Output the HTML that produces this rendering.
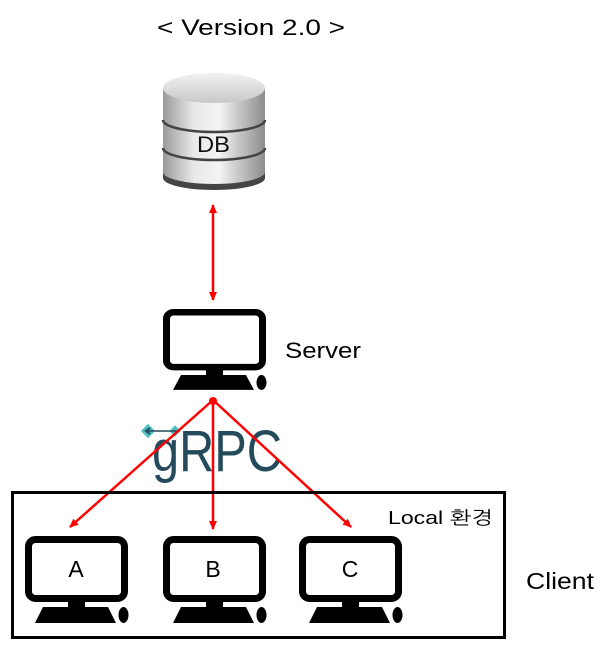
<!DOCTYPE html>
<html><head><meta charset="utf-8"><style>
html,body{margin:0;padding:0;background:#fff;}
svg{display:block;}
text{font-family:"Liberation Sans","NanumGothic",sans-serif;}
</style></head><body>
<svg width="608" height="652" viewBox="0 0 608 652" xmlns="http://www.w3.org/2000/svg">
<defs>
<linearGradient id="cyl" x1="0" x2="1" y1="0" y2="0">
<stop offset="0" stop-color="#9a9a9a"/><stop offset="0.3" stop-color="#e8e8e8"/><stop offset="0.55" stop-color="#f4f4f4"/><stop offset="1" stop-color="#8c8c8c"/>
</linearGradient>
<linearGradient id="top" x1="0" x2="0" y1="0" y2="1">
<stop offset="0" stop-color="#f2f2f2"/><stop offset="1" stop-color="#c8c8c8"/>
</linearGradient>
<g id="mon">
<rect x="3.5" y="3.5" width="96" height="59" rx="7" fill="#fff" stroke="#000" stroke-width="7"/>
<rect x="43" y="65" width="17" height="8" fill="#000"/>
<polygon points="18,71 83,71 91,87 10,87" fill="#000"/>
<ellipse cx="98.5" cy="79" rx="5" ry="8" fill="#000"/>
</g>
<marker id="ar" markerWidth="10" markerHeight="10" refX="8" refY="4" orient="auto-start-reverse" markerUnits="userSpaceOnUse">
<path d="M0,0 L9,4 L0,8 z" fill="#f00"/>
</marker>
</defs>
<text x="157" y="35" font-size="22" fill="#000" textLength="188" lengthAdjust="spacingAndGlyphs">&lt; Version 2.0 &gt;</text>

<!-- DB -->
<path d="M163,88 L163,175 A51,12 0 0 0 265,175 L265,88 Z" fill="url(#cyl)"/>
<path d="M163,172 A51,12 0 0 0 265,172 L265,178 A51,12 0 0 1 163,178 Z" fill="#444"/>
<ellipse cx="214" cy="88" rx="51" ry="15" fill="url(#top)"/>
<path d="M163,120 A51,12 0 0 0 265,120" fill="none" stroke="#444" stroke-width="2.5"/>
<path d="M163,148 A51,12 0 0 0 265,148" fill="none" stroke="#444" stroke-width="2.5"/>
<text x="197" y="152" font-size="22" fill="#111" textLength="33" lengthAdjust="spacingAndGlyphs">DB</text>

<line x1="213" y1="205" x2="213" y2="300" stroke="#f00" stroke-width="2.5" marker-start="url(#ar)" marker-end="url(#ar)"/>

<use href="#mon" transform="translate(163,309) scale(1,0.93)"/>
<text x="285" y="358" font-size="22" fill="#000" textLength="76" lengthAdjust="spacingAndGlyphs">Server</text>

<!-- gRPC -->
<text x="152" y="471" font-size="58" fill="#244b5b" textLength="130" lengthAdjust="spacingAndGlyphs">gRPC</text>
<rect x="143" y="426" width="10" height="10" fill="#4cc0c0" transform="rotate(45 148 431)"/>
<rect x="171" y="427" width="8" height="8" fill="#4cc0c0" transform="rotate(45 175 431)"/>
<line x1="145" y1="431" x2="177" y2="431" stroke="#244b5b" stroke-width="1.5"/>
<path d="M150,428 L146,431 L150,434" fill="none" stroke="#244b5b" stroke-width="2"/>

<line x1="213" y1="400" x2="70" y2="527" stroke="#f00" stroke-width="2.5" marker-end="url(#ar)"/>
<line x1="213" y1="400" x2="213" y2="529" stroke="#f00" stroke-width="2.5" marker-end="url(#ar)"/>
<line x1="213" y1="400" x2="351" y2="527" stroke="#f00" stroke-width="2.5" marker-end="url(#ar)"/>
<circle cx="213" cy="401" r="4" fill="#f00"/>

<rect x="12.5" y="492.5" width="492" height="145" fill="none" stroke="#000" stroke-width="3"/>
<text x="388" y="524" font-size="18" fill="#000" textLength="105" lengthAdjust="spacingAndGlyphs">Local 환경</text>

<use href="#mon" transform="translate(25,536)"/>
<use href="#mon" transform="translate(163,536)"/>
<use href="#mon" transform="translate(299,536)"/>
<text x="76" y="577" font-size="23" text-anchor="middle">A</text>
<text x="213" y="577" font-size="23" text-anchor="middle">B</text>
<text x="350" y="577" font-size="23" text-anchor="middle">C</text>
<text x="526" y="589" font-size="23" textLength="68" lengthAdjust="spacingAndGlyphs">Client</text>
</svg>
</body></html>
